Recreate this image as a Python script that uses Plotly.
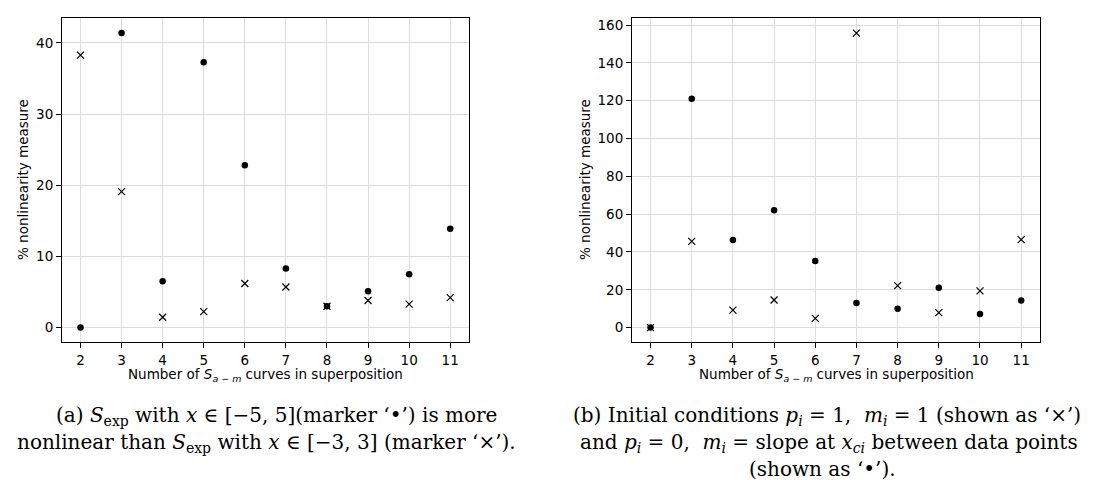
import plotly.graph_objects as go

# ---- data ----
n_curves = [2, 3, 4, 5, 6, 7, 8, 9, 10, 11]
a_dot = [0.0, 41.4, 6.5, 37.3, 22.8, 8.3, 3.0, 5.1, 7.5, 13.9]      # x in [-5,5]
a_cross = [38.3, 19.1, 1.45, 2.25, 6.2, 5.7, 3.0, 3.8, 3.3, 4.2]    # x in [-3,3]
b_dot = [0.0, 121.1, 46.3, 62.0, 35.2, 13.0, 10.0, 21.1, 7.2, 14.3]  # p=0, m=slope
b_cross = [0.0, 45.6, 9.2, 14.6, 4.9, 155.8, 22.2, 7.9, 19.4, 46.5]  # p=1, m=1
x_ticks = [2, 3, 4, 5, 6, 7, 8, 9, 10, 11]
ya_ticks = [0, 10, 20, 30, 40]
yb_ticks = [0, 20, 40, 60, 80, 100, 120, 140, 160]

W, H = 1118, 480
fig = go.Figure()

dot_marker = dict(symbol="circle", size=6.5, color="black", line=dict(width=0))
cross_marker = dict(symbol="x-thin", size=7, color="black", line=dict(width=1.2, color="black"))

fig.add_trace(go.Scatter(x=n_curves, y=a_dot, mode="markers", marker=dot_marker, xaxis="x", yaxis="y"))
fig.add_trace(go.Scatter(x=n_curves, y=a_cross, mode="markers", marker=cross_marker, xaxis="x", yaxis="y"))
fig.add_trace(go.Scatter(x=n_curves, y=b_dot, mode="markers", marker=dot_marker, xaxis="x2", yaxis="y2"))
fig.add_trace(go.Scatter(x=n_curves, y=b_cross, mode="markers", marker=cross_marker, xaxis="x2", yaxis="y2"))

tickfont = dict(family="DejaVu Sans", size=13.5, color="black")
axis_common = dict(showline=True, mirror=True, linecolor="black", linewidth=1,
                   ticks="outside", ticklen=5, tickwidth=1, tickcolor="black",
                   showgrid=True, gridcolor="#dcdcdc", gridwidth=1, zeroline=False,
                   tickfont=tickfont)

ydom = [1 - 334.3 / H, 1 - 10.3 / H]
fig.update_layout(
    width=W, height=H, margin=dict(l=0, r=0, t=0, b=0),
    paper_bgcolor="white", plot_bgcolor="white", showlegend=False,
    xaxis=dict(domain=[54 / W, 460.7 / W], range=[1.55, 11.45], tickvals=x_ticks, anchor="y", **axis_common),
    yaxis=dict(domain=ydom, range=[-2.07, 43.47], tickvals=ya_ticks, anchor="x", **axis_common),
    xaxis2=dict(domain=[624 / W, 1031.7 / W], range=[1.55, 11.45], tickvals=x_ticks, anchor="y2", **axis_common),
    yaxis2=dict(domain=ydom, range=[-7.79, 163.6], tickvals=yb_ticks, anchor="x2", **axis_common),
)

label_font = dict(family="DejaVu Sans", size=13.5, color="black")
xlabel = "Number of <i>S</i><sub><i>a</i> − <i>m</i></sub> curves in superposition"
ylabel = "% nonlinearity measure"
ann = []
for cx, ycx in [(257, 15), (828, 577)]:
    ann.append(dict(x=cx / W, y=1 - 367 / H, xref="paper", yref="paper", text=xlabel,
                    showarrow=False, font=label_font, xanchor="center", yanchor="middle"))
    ann.append(dict(x=ycx / W, y=1 - 172 / H, xref="paper", yref="paper", text=ylabel,
                    showarrow=False, font=label_font, textangle=-90, xanchor="center", yanchor="middle"))

cap_font = dict(family="DejaVu Serif", size=20, color="black")
captions = [
    (268, 408, "(a) <i>S</i><sub>exp</sub> with <i>x</i> ∈ [−5, 5](marker ‘•’) is more"),
    (258, 435, "nonlinear than <i>S</i><sub>exp</sub> with <i>x</i> ∈ [−3, 3] (marker ‘×’)."),
    (819, 408, "(b) Initial conditions <i>p<sub>i</sub></i> = 1,  <i>m<sub>i</sub></i> = 1 (shown as ‘×’)"),
    (821, 435, "and <i>p<sub>i</sub></i> = 0,  <i>m<sub>i</sub></i> = slope at <i>x<sub>ci</sub></i> between data points"),
    (815, 461, "(shown as ‘•’)."),
]
for cx, cy, t in captions:
    ann.append(dict(x=cx / W, y=1 - cy / H, xref="paper", yref="paper", text=t,
                    showarrow=False, font=cap_font, xanchor="center", yanchor="middle"))

fig.update_layout(annotations=ann)
fig.write_html("out.html")
